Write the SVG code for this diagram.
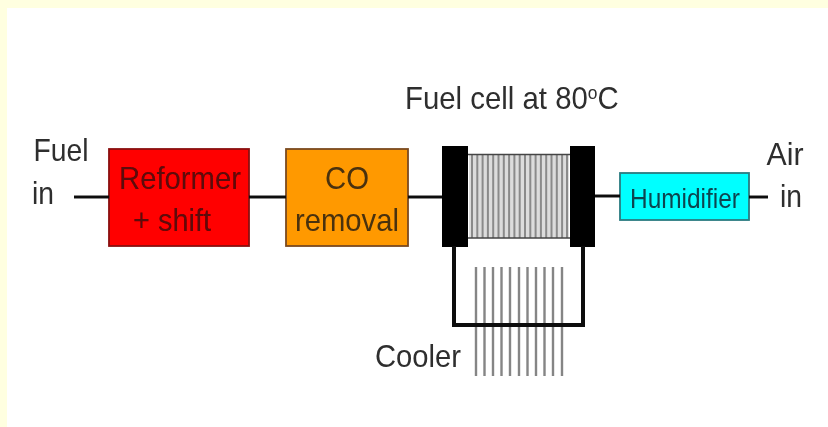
<svg xmlns="http://www.w3.org/2000/svg" width="828" height="427" viewBox="0 0 828 427">
<defs>
<filter id="soft" x="-5%" y="-5%" width="110%" height="110%"><feGaussianBlur stdDeviation="0.75"/></filter>
</defs>
<style>
text{font-family:"Liberation Sans",Arial,sans-serif;font-size:32px;fill:#2e2e2e;text-anchor:middle}
.box{stroke-width:1.8}
.wire{fill:none;stroke:#111;stroke-width:3}
.fin{stroke:#8a8a8a;stroke-width:2}
.cfin{stroke:#858585;stroke-width:2.4}
</style>
<rect width="828" height="427" fill="#ffffe0"/>
<rect x="7" y="8" width="821" height="419" fill="#fff"/>
<g filter="url(#soft)">
<g id="reformer"><rect class="box" x="109" y="149" width="140" height="97" fill="#f00" stroke="#8a1010"/>
<text x="180" y="189" textLength="122" lengthAdjust="spacingAndGlyphs" style="fill:#5a0808">Reformer</text><text x="172" y="231" textLength="78" lengthAdjust="spacingAndGlyphs" style="fill:#5a0808">+ shift</text></g>
<g id="co-removal"><rect class="box" x="286" y="149" width="122" height="97" fill="#f90" stroke="#7a4a20"/>
<text x="347" y="189" textLength="44" lengthAdjust="spacingAndGlyphs" style="fill:#4a3010">CO</text><text x="347" y="231" textLength="104" lengthAdjust="spacingAndGlyphs" style="fill:#4a3010">removal</text></g>
<g id="fuel-cell">
<rect x="469" y="155" width="100" height="83" fill="#dcdcdc"/>
<path class="fin" d="M472 155v83M477.300 155v83M482.600 155v83M487.900 155v83M493.200 155v83M498.500 155v83M503.800 155v83M509.100 155v83M514.400 155v83M519.700 155v83M525 155v83M530.300 155v83M535.600 155v83M540.900 155v83M546.200 155v83M551.500 155v83M556.800 155v83M562.100 155v83M567 155v83"/>
<path d="M468 154.500H570M468 238H570" stroke="#444" stroke-width="1.500"/>
<rect x="442" y="146" width="26" height="101" fill="#000"/>
<rect x="570" y="146" width="25" height="101" fill="#000"/>
<text transform="translate(405 109) scale(.918 1)" style="text-anchor:start">Fuel cell at 80<tspan font-size="19" dy="-10">o</tspan><tspan dy="10">C</tspan></text>
</g>
<g id="cooler">
<path class="cfin" d="M476 267V376M484.500 267V376M493 267V376M501.500 267V376M510 267V376M519 267V376M527.500 267V376M536 267V376M544.500 267V376M553 267V376M562 267V376"/>
<text x="418" y="367" textLength="86" lengthAdjust="spacingAndGlyphs">Cooler</text>
</g>
<g id="humidifier"><rect class="box" x="620" y="173" width="129" height="47" fill="#0ff" stroke="#2a7a80"/>
<text x="685" y="208" style="font-size:27px;fill:#0c4450" textLength="110" lengthAdjust="spacingAndGlyphs">Humidifier</text></g>
<g id="fuel-in"><text x="61" y="161" textLength="55" lengthAdjust="spacingAndGlyphs">Fuel</text><text x="43" y="204" textLength="22" lengthAdjust="spacingAndGlyphs">in</text></g>
<g id="air-in"><text x="785" y="165" textLength="37" lengthAdjust="spacingAndGlyphs">Air</text><text x="791" y="207" textLength="22" lengthAdjust="spacingAndGlyphs">in</text></g>
<g id="connectors">
<path class="wire" d="M74 197H109"/>
<path class="wire" d="M249 197H286"/>
<path class="wire" d="M408 197H442"/>
<path class="wire" d="M595 196H620"/>
<path class="wire" d="M749 197H768"/>
<path class="wire" style="stroke-width:4" d="M454 246V325H583V246"/>
</g>
</g>
</svg>
